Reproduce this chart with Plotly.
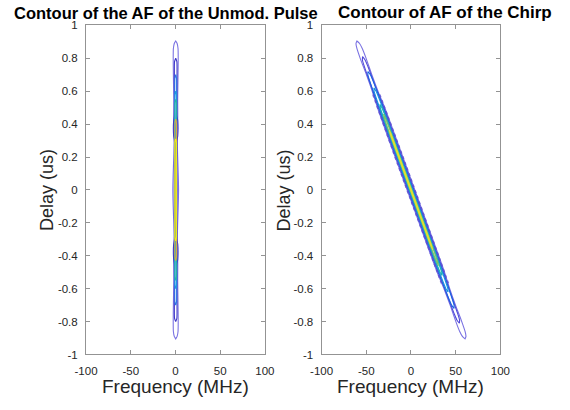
import numpy as np
import plotly.graph_objects as go

W, H = 570, 410

# ---------------- axis ticks ----------------
x_ticks = [-100, -50, 0, 50, 100]
x_tick_text = ["-100", "-50", "0", "50", "100"]
y_ticks = [-1, -0.8, -0.6, -0.4, -0.2, 0, 0.2, 0.4, 0.6, 0.8, 1]
y_tick_text = ["-1", "-0.8", "-0.6", "-0.4", "-0.2", "0", "0.2", "0.4", "0.6", "0.8", "1"]

# ---------------- unmodulated pulse ----------------
# ridge centre (delay ascending, frequency MHz)
pulse_ridge_tau = [-1.0, 1.0]
pulse_ridge_freq = [0.3, 0.3]
# contour loops, outer -> inner : colour, delays (tip -> 0), half-width (MHz)
pulse_colors = ["#7a72e2", "#3f38c8", "#2f78e6", "#1f9ae0", "#26b5a6", "#d7a844", "#eeea1c"]
pulse_taus = [
    [0.905, 0.89, 0.86, 0.8, 0.7, 0.55, 0.45, 0.3, 0.2, 0.1, 0.0],
    [0.80, 0.78, 0.7, 0.45, 0.42, 0.33, 0.30, 0.0],
    [0.70, 0.68, 0.4, 0.0],
    [0.60, 0.58, 0.3, 0.0],
    [0.55, 0.53, 0.3, 0.0],
    [0.43, 0.41, 0.2, 0.0],
    [0.31, 0.29, 0.15, 0.0],
]
pulse_halfw = [
    [0.0, 1.6, 2.6, 2.8, 2.6, 2.2, 2.3, 1.8, 2.2, 2.8, 3.2],
    [0.0, 1.3, 1.5, 1.5, 2.3, 2.3, 1.4, 1.6],
    [0.0, 0.9, 0.8, 0.8],
    [0.0, 0.8, 0.8, 0.8],
    [0.0, 0.8, 0.8, 0.8],
    [0.0, 0.8, 0.8, 0.8],
    [0.0, 0.8, 0.8, 0.8],
]

# ---------------- chirp ----------------
chirp_ridge_tau = [-0.905, 0.0, 0.905]
chirp_ridge_freq = [60.5, 0.0, -60.5]
chirp_colors = ["#7a72e2", "#5048d8", "#1a64e2", "#1a92dd", "#1fb3b3", "#7cc06a", "#e0e030"]
chirp_taus = [
    [0.905, 0.89, 0.86, 0.8, 0.7, 0.6, 0.5, 0.4, 0.2, 0.0],
    [0.81, 0.79, 0.75, 0.6, 0.5, 0.4, 0.0],
    [0.72, 0.70, 0.6, 0.4, 0.0],
    [0.62, 0.60, 0.5, 0.3, 0.0],
    [0.52, 0.50, 0.4, 0.0],
    [0.46, 0.44, 0.3, 0.0],
    [0.36, 0.34, 0.2, 0.0],
]
chirp_halfw = [
    [0.0, 2.0, 3.0, 3.3, 3.0, 3.2, 4.1, 4.3, 4.3, 4.3],
    [0.0, 1.5, 2.0, 2.4, 3.2, 3.4, 3.4],
    [0.0, 1.4, 2.2, 2.6, 2.6],
    [0.0, 1.1, 1.7, 2.0, 2.0],
    [0.0, 0.9, 1.4, 1.4],
    [0.0, 0.6, 0.9, 0.9],
    [0.0, 0.4, 0.5, 0.5],
]
# hatched sidelobe edge of the chirp ridge
chirp_edge_color = "#5a4ed2"
chirp_edge_tau = [0.58, 0.4, 0.2, 0.0]
chirp_edge_halfw = [3.6, 4.1, 4.2, 4.2]


def mirror(tau_pos, hw_pos):
    t = list(tau_pos) + [-v for v in reversed(tau_pos[:-1])]
    h = list(hw_pos) + list(reversed(hw_pos[:-1]))
    return np.array(t), np.array(h)


def loop(tau_pos, hw_pos, rt, rf):
    t, h = mirror(tau_pos, hw_pos)
    c = np.interp(t, rt, rf)
    right = c + h
    left = c - h
    x = np.concatenate([right, left[::-1], right[:1]])
    y = np.concatenate([t, t[::-1], t[:1]])
    return x, y


fig = go.Figure()

for col, tp, hp in zip(pulse_colors, pulse_taus, pulse_halfw):
    x, y = loop(tp, hp, pulse_ridge_tau, pulse_ridge_freq)
    fig.add_trace(go.Scatter(x=x, y=y, mode="lines", xaxis="x", yaxis="y",
                             line=dict(color=col, width=1.1, shape="spline", smoothing=0.6),
                             hoverinfo="skip", showlegend=False))

for col, tp, hp in zip(chirp_colors, chirp_taus, chirp_halfw):
    x, y = loop(tp, hp, chirp_ridge_tau, chirp_ridge_freq)
    fig.add_trace(go.Scatter(x=x, y=y, mode="lines", xaxis="x2", yaxis="y2",
                             line=dict(color=col, width=1.1, shape="spline", smoothing=0.6),
                             hoverinfo="skip", showlegend=False))

# hatched edges of the chirp ridge
t_e, h_e = mirror(chirp_edge_tau, chirp_edge_halfw)
c_e = np.interp(t_e, chirp_ridge_tau, chirp_ridge_freq)
for sgn in (1, -1):
    fig.add_trace(go.Scatter(x=c_e + sgn * h_e, y=t_e, mode="lines", xaxis="x2", yaxis="y2",
                             line=dict(color=chirp_edge_color, width=2.0, dash="dot"),
                             opacity=0.75, hoverinfo="skip", showlegend=False))

axis_col = "#939393"
text_col = "#262626"
font_family = "Liberation Sans, Arial, sans-serif"

common_x = dict(range=[-100, 100], tickvals=x_ticks, ticktext=x_tick_text,
                ticks="inside", ticklen=4, tickcolor=axis_col, tickwidth=1,
                showline=True, linecolor=axis_col, linewidth=1, mirror="ticks",
                showgrid=False, zeroline=False, ticklabelstandoff=6,
                tickfont=dict(size=11.5, color=text_col, family=font_family))
common_y = dict(range=[-1, 1], tickvals=y_ticks, ticktext=y_tick_text,
                ticks="inside", ticklen=4, tickcolor=axis_col, tickwidth=1,
                showline=True, linecolor=axis_col, linewidth=1, mirror="ticks",
                showgrid=False, zeroline=False, ticklabelstandoff=5,
                tickfont=dict(size=11.5, color=text_col, family=font_family),
                domain=[1 - 359 / H, 1 - 20 / H])

fig.update_layout(
    width=W, height=H,
    margin=dict(l=0, r=0, t=0, b=0),
    paper_bgcolor="white", plot_bgcolor="white",
    xaxis=dict(domain=[77 / W, 263 / W], anchor="y", **common_x),
    yaxis=dict(anchor="x", **common_y),
    xaxis2=dict(domain=[322 / W, 508 / W], anchor="y2", **common_x),
    yaxis2=dict(anchor="x2", **common_y),
    font=dict(family=font_family),
)

annots = [
    dict(text="<b>Contour of the AF of the Unmod. Pulse</b>", x=160 / W, y=1 - 7 / H,
         xanchor="center", yanchor="middle", font=dict(size=16.5, color="black")),
    dict(text="<b>Contour of AF of the Chirp</b>", x=450 / W, y=1 - 7 / H,
         xanchor="center", yanchor="middle", font=dict(size=17, color="black")),
    dict(text="Frequency (MHz)", x=170 / W, y=1 - 392 / H, xanchor="center", yanchor="middle",
         font=dict(size=19, color=text_col)),
    dict(text="Frequency (MHz)", x=415 / W, y=1 - 392 / H, xanchor="center", yanchor="middle",
         font=dict(size=19, color=text_col)),
    dict(text="Delay (us)", x=37 / W, y=1 - 190 / H, xanchor="center", yanchor="middle",
         textangle=-90, font=dict(size=18, color=text_col)),
    dict(text="Delay (us)", x=283 / W, y=1 - 190 / H, xanchor="center", yanchor="middle",
         textangle=-90, font=dict(size=18, color=text_col)),
]
for a in annots:
    a.update(xref="paper", yref="paper", showarrow=False, borderpad=0)
fig.update_layout(annotations=annots)

fig.write_html("out.html")
